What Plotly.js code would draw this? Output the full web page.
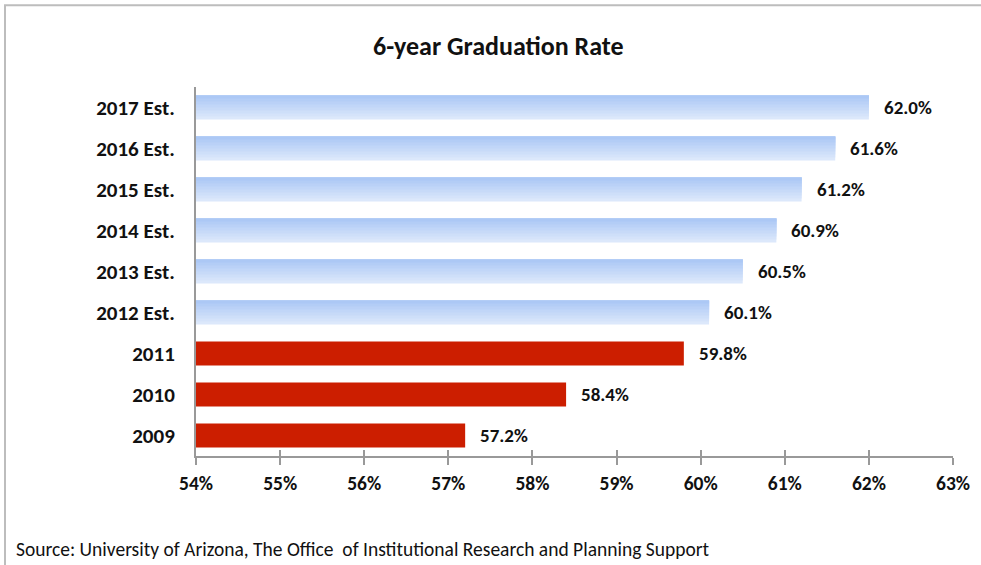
<!DOCTYPE html>
<html>
<head>
<meta charset="utf-8">
<script src="https://cdn.plot.ly/plotly-3.0.1.min.js"></script>
<style>
html,body{margin:0;padding:0;background:#fff;}
#chart{width:981px;height:565px;}
</style>
</head>
<body>
<div id="chart"></div>
<script>
const categories = ["2009","2010","2011","2012 Est.","2013 Est.","2014 Est.","2015 Est.","2016 Est.","2017 Est."];
const actualYears = ["2009","2010","2011"];
const actualValues = [57.2, 58.4, 59.8];
const estYears = ["2012 Est.","2013 Est.","2014 Est.","2015 Est.","2016 Est.","2017 Est."];
const estValues = [60.1, 60.5, 60.9, 61.2, 61.6, 62.0];
const tickVals = [54,55,56,57,58,59,60,61,62,63];
const tickText = ["54%","55%","56%","57%","58%","59%","60%","61%","62%","63%"];

const FONT = "Carlito, Lato, 'Open Sans', sans-serif";
const AXIS_MIN = 54;
const barWidth = 0.58;

const traces = [];
traces.push({
  type: "bar", orientation: "h",
  y: actualYears, x: actualValues.map(v => v - AXIS_MIN), base: AXIS_MIN,
  width: barWidth,
  marker: {color: "#cc1e00", line: {width: 0}},
  hoverinfo: "skip", showlegend: false
});

// estimated bars: vertical gradient from layered bands (top darker, bottom lighter)
const nBands = 8;
const topC = [172, 200, 245], botC = [220, 232, 251];
for (let b = 0; b < nBands; b++) {
  const t = b / (nBands - 1); // 0 = bottom band, 1 = top band
  const c = botC.map((v, k) => Math.round(v + (topC[k] - v) * t));
  const w = barWidth / nBands;
  traces.push({
    type: "bar", orientation: "h",
    y: estYears, x: estValues.map(v => v - AXIS_MIN), base: AXIS_MIN,
    width: barWidth - b * w, offset: -barWidth / 2 + b * w,
    marker: {color: `rgb(${c[0]},${c[1]},${c[2]})`, line: {width: 0}},
    hoverinfo: "skip", showlegend: false
  });
}

traces.push({
  type: "scatter", mode: "markers",
  x: [AXIS_MIN, 63], y: ["2009","2009"],
  xaxis: "x2", yaxis: "y",
  marker: {opacity: 0}, hoverinfo: "skip", showlegend: false
});

const allYears = actualYears.concat(estYears);
const allValues = actualValues.concat(estValues);
const annotations = allYears.map((c, i) => ({
  x: allValues[i], y: categories.indexOf(c), xref: "x", yref: "y",
  text: "<b>" + allValues[i].toFixed(1) + "%</b>",
  showarrow: false, xanchor: "left", xshift: 13,
  font: {family: FONT, size: 19, color: "#111"}
}));
annotations.push({
  xref: "paper", yref: "paper", x: -0.2405, y: -0.251,
  xanchor: "left", yanchor: "middle",
  text: "Source: University of Arizona, The Office  of Institutional Research and Planning Support",
  showarrow: false,
  font: {family: FONT, size: 19.5, color: "#111"}
});

const layout = {
  width: 981, height: 565,
  margin: {l: 196, r: 28, t: 86.5, b: 108.5},
  paper_bgcolor: "#fff", plot_bgcolor: "#fff",
  title: {
    text: "<b>6-year Graduation Rate</b>",
    font: {family: FONT, size: 26, color: "#111"},
    x: 0.508, xanchor: "center", y: 0.918, yanchor: "middle"
  },
  xaxis: {
    range: [AXIS_MIN, 63], tickvals: tickVals, ticktext: tickText,
    showgrid: false, zeroline: false,
    showline: true, linecolor: "#999", linewidth: 2,
    ticks: "outside", ticklen: 7, tickwidth: 2, tickcolor: "#999",
    ticklabelstandoff: 2,
    tickfont: {family: FONT, size: 19.5, color: "#111", weight: "bold"},
    fixedrange: true
  },
  xaxis2: {
    range: [AXIS_MIN, 63], tickvals: tickVals, overlaying: "x", anchor: "y", side: "bottom",
    showgrid: false, zeroline: false, showline: false, showticklabels: false,
    ticks: "inside", ticklen: 6, tickwidth: 2, tickcolor: "#999"
  },
  yaxis: {
    type: "category", categoryorder: "array", categoryarray: categories,
    range: [-0.5, 8.5],
    showgrid: false, zeroline: false,
    showline: true, linecolor: "#999", linewidth: 2,
    ticks: "", ticklabelstandoff: 15,
    tickfont: {family: FONT, size: 21, color: "#111", weight: "bold"},
    fixedrange: true
  },
  barmode: "overlay",
  annotations: annotations,
  shapes: [{
    type: "rect", xref: "paper", yref: "paper",
    x0: -0.2523, x1: 1.2, y0: -0.35, y1: 1.2216,
    line: {color: "#bdbdbd", width: 2}, fillcolor: "rgba(0,0,0,0)", layer: "below"
  }],
  showlegend: false
};

Plotly.newPlot("chart", traces, layout, {displayModeBar: false, staticPlot: true});
</script>
</body>
</html>
